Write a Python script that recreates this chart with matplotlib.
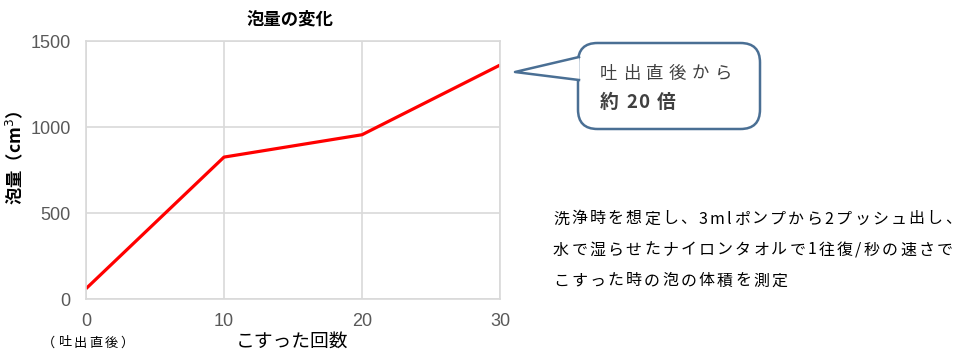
import matplotlib

matplotlib.use("Agg")
import matplotlib.pyplot as plt
from matplotlib.lines import Line2D
from matplotlib.patches import FancyBboxPatch, Polygon

plt.rcParams["font.family"] = ["Noto Sans CJK JP", "DejaVu Sans"]

# data
rub_counts = [0, 10, 20, 30]
foam_volume = [60, 825, 955, 1360]
x_ticks = [0, 10, 20, 30]
y_ticks = [0, 500, 1000, 1500]

title = "泡量の変化"
x_label = "こすった回数"
y_label = "泡量（cm$^3$）"
x_note = "（吐出直後）"
callout_lines = ["吐出直後から", "約 20 倍"]
method_note = [
    "洗浄時を想定し、3mlポンプから2プッシュ出し、",
    "水で湿らせたナイロンタオルで1往復/秒の速さで",
    "こすった時の泡の体積を測定",
]

W, H = 973, 358
fig = plt.figure(figsize=(W / 100, H / 100), dpi=100)
renderer = fig.canvas.get_renderer()


def px(x, y):
    # pixel position (from top-left) -> figure fraction
    return (x / W, 1 - y / H)


def spaced_text(x, y, s, gap, **kw):
    # draw text one glyph at a time with extra letter spacing (pixels)
    for ch in s:
        t = fig.text(*px(x, y), ch, ha="left", va="center", **kw)
        x += t.get_window_extent(renderer).width + gap


ax = fig.add_axes([86 / W, 1 - 299 / H, (500 - 86) / W, (299 - 41) / H])
ax.plot(rub_counts, foam_volume, color="#ff0000", linewidth=2.3, solid_capstyle="butt")
ax.set_xlim(0, 30)
ax.set_ylim(0, 1500)
ax.set_xticks(x_ticks)
ax.set_yticks(y_ticks)
ax.grid(color="#d9d9d9", linewidth=1.2)
ax.set_axisbelow(True)
for s in ax.spines.values():
    s.set_color("#d9d9d9")
    s.set_linewidth(1.2)
ax.tick_params(length=0, labelsize=13, colors="#595959")
ax.tick_params(axis="y", pad=11)
ax.tick_params(axis="x", pad=10)
for lab in ax.get_xticklabels() + ax.get_yticklabels():
    lab.set_family(["Liberation Sans", "DejaVu Sans"])

fig.text(*px(290, 20), title, ha="center", va="center", fontsize=12.5, fontweight="bold")
fig.text(*px(292, 341), x_label, ha="center", va="center", fontsize=13.5)
spaced_text(42, 343, x_note, 2.5, fontsize=9.5)
fig.text(*px(14, 158), y_label, ha="center", va="center", rotation=90,
         fontsize=12.5, fontweight="bold")

# speech bubble
edge = "#4a6f94"
x0, y0 = px(578, 129)
x1, y1 = px(760, 43)
box = FancyBboxPatch((x0, y0), x1 - x0, y1 - y0,
                     boxstyle="round,pad=0,rounding_size=0.02",
                     transform=fig.transFigure, facecolor="white",
                     edgecolor=edge, linewidth=1.8, mutation_aspect=W / H)
fig.patches.append(box)
tip = px(515, 72)
base_top = px(579, 57)
base_bot = px(579, 80)
fig.patches.append(Polygon([base_top, tip, base_bot], closed=True,
                           transform=fig.transFigure, facecolor="white",
                           edgecolor="none"))
fig.lines.append(Line2D([base_top[0], tip[0], base_bot[0]],
                        [base_top[1], tip[1], base_bot[1]],
                        transform=fig.transFigure, color=edge, linewidth=1.8))
spaced_text(600, 74, callout_lines[0], 5.5, fontsize=12.5, color="#404040")
spaced_text(600, 102, callout_lines[1], 1.5, fontsize=13.5, color="#404040",
            fontweight="bold")

for i, line in enumerate(method_note):
    spaced_text(553, 219 + 31 * i, line, 2.2, fontsize=11.5)

fig.savefig("out.png", dpi=100)
